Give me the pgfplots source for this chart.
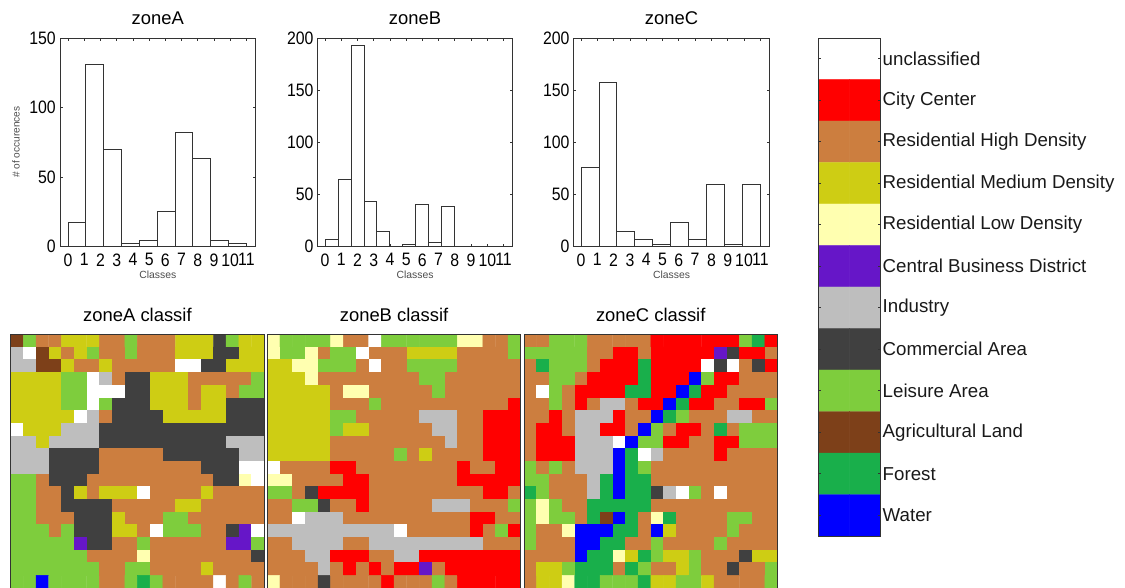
\documentclass[border=0pt]{standalone}
\usepackage{pgfplots}
\usepackage{fontspec}
\setmainfont{Liberation Sans}
\newfontfamily\tickfont[FakeStretch=0.88]{Liberation Sans}
\pgfplotsset{compat=1.18}
\definecolor{axc}{gray}{0.2}
\pgfplotsset{
 colormap={landuse}{rgb255=(255,255,255) rgb255=(255,0,0) rgb255=(204,126,63) rgb255=(206,205,20) rgb255=(255,255,176) rgb255=(102,22,200) rgb255=(190,190,190) rgb255=(64,64,64) rgb255=(126,205,61) rgb255=(125,64,25) rgb255=(25,175,75) rgb255=(0,0,255)},
 every axis/.append style={scale only axis, anchor=south west, /pgf/number format/assume math mode=true, axis line style={axc,line width=0.9pt}},
 hist/.style={width=#1, height=208pt, xtick={0,...,11}, major tick length=2.5pt, tick style={axc,line width=0.7pt},
   ymin=0, ticklabel style={font=\tickfont\fontsize{18}{20}\selectfont, inner sep=0pt}, xtick pos=both, ytick pos=both, tick align=inside,
   yticklabel style={xshift=-4pt}, xticklabel style={yshift=-7pt},
   xlabel={Classes}, xlabel style={font=\fontsize{10.4}{11}\selectfont, text=black!70, yshift=-1pt},
   title style={font=\fontsize{18.4}{20}\selectfont, yshift=4pt}},
 zmap/.style={width=253.5pt, height=253.7pt, xmin=-0.5, xmax=19.5, ymin=-0.5, ymax=19.5, y dir=reverse, ticks=none, axis on top,
   colormap name=landuse, colormap access=direct,
   title style={font=\fontsize{18.4}{20}\selectfont, yshift=3pt}},
 bars/.style={ybar interval, draw=axc, fill=white, line width=0.9pt},
 cells/.style={matrix plot*, mesh/cols=20, point meta=explicit},
 table/cellrows/.style={/pgfplots/table/row sep=\\, /pgfplots/table/header=false, /pgfplots/table/x expr={\coordindex-20*floor((\coordindex+0.5)/20)}, /pgfplots/table/y expr={floor((\coordindex+0.5)/20)}, /pgfplots/table/meta index=0}
}
\begin{document}
\begin{tikzpicture}
\path[use as bounding box] (0pt,0pt) rectangle (1125pt,588pt);

\begin{axis}[hist=195.5pt, at={(60pt,341.7pt)}, xmin=-0.5, xmax=11.56, ymax=150, ytick={0,50,100,150}, title={zoneA},
  ylabel={\# of occurences}, ylabel style={font=\fontsize{10.1}{11}\selectfont, text=black!70, yshift=6pt}]
\addplot[bars] coordinates {(0,17) (1.1,131) (2.2,70) (3.3,2) (4.4,4) (5.5,25) (6.6,82) (7.7,63) (8.8,4) (9.9,2) (11,2)};
\end{axis}

\begin{axis}[hist=194.6pt, at={(317.7pt,341.7pt)}, xmin=-0.45, xmax=11.54, ymax=200, ytick={0,50,100,150,200}, title={zoneB}]
\addplot[bars] coordinates {(0,7) (0.8,64) (1.6,193) (2.4,43) (3.2,14) (4,0) (4.8,2) (5.6,40) (6.4,4) (7.2,38) (8,38)};
\end{axis}

\begin{axis}[hist=195.6pt, at={(573.7pt,341.7pt)}, xmin=-0.45, xmax=11.55, ymax=200, ytick={0,50,100,150,200}, title={zoneC}]
\addplot[bars] coordinates {(0,76) (1.1,158) (2.2,14) (3.3,7) (4.4,2) (5.5,23) (6.6,7) (7.7,59) (8.8,2) (9.9,59) (11,59)};
\end{axis}

\begin{axis}[zmap, at={(10.7pt,0pt)}, title={zoneA classif}]
\addplot[cells] table[cellrows] {
9\\8\\2\\2\\3\\3\\3\\2\\2\\8\\2\\2\\2\\3\\3\\3\\7\\8\\3\\3\\
6\\0\\9\\3\\2\\3\\8\\2\\2\\8\\2\\2\\2\\3\\3\\3\\7\\7\\3\\3\\
6\\6\\9\\9\\3\\2\\2\\3\\2\\2\\2\\2\\2\\0\\0\\7\\7\\3\\3\\3\\
3\\3\\3\\3\\8\\8\\0\\6\\2\\7\\7\\3\\3\\3\\2\\2\\2\\2\\2\\8\\
3\\3\\3\\3\\8\\8\\0\\0\\0\\7\\7\\3\\3\\3\\2\\3\\3\\2\\8\\8\\
3\\3\\3\\3\\8\\8\\0\\8\\7\\7\\7\\3\\3\\3\\2\\3\\3\\7\\7\\7\\
3\\3\\3\\3\\3\\0\\6\\2\\7\\7\\7\\7\\3\\3\\3\\3\\3\\7\\7\\7\\
0\\3\\3\\3\\6\\6\\6\\7\\7\\7\\7\\7\\7\\7\\7\\7\\7\\7\\7\\7\\
6\\6\\3\\6\\6\\6\\6\\7\\7\\7\\7\\7\\7\\7\\7\\7\\7\\6\\6\\6\\
6\\6\\6\\7\\7\\7\\7\\2\\2\\2\\2\\2\\7\\7\\7\\7\\7\\7\\6\\6\\
6\\6\\6\\7\\7\\7\\7\\2\\2\\2\\2\\2\\2\\2\\2\\7\\7\\7\\0\\0\\
8\\8\\2\\7\\7\\7\\2\\2\\2\\2\\2\\2\\2\\2\\2\\2\\7\\7\\4\\0\\
8\\8\\2\\2\\7\\3\\2\\3\\3\\3\\0\\2\\2\\2\\2\\3\\2\\2\\2\\2\\
8\\8\\2\\2\\7\\7\\7\\7\\2\\2\\2\\2\\2\\3\\3\\2\\2\\2\\2\\2\\
8\\8\\2\\2\\2\\7\\7\\7\\3\\2\\2\\2\\8\\8\\2\\2\\2\\2\\2\\2\\
8\\8\\8\\2\\8\\7\\7\\7\\3\\3\\2\\0\\8\\8\\8\\2\\2\\7\\5\\0\\
8\\8\\8\\8\\8\\5\\7\\7\\2\\2\\8\\2\\2\\2\\2\\2\\2\\5\\5\\8\\
8\\8\\8\\8\\8\\8\\2\\2\\2\\2\\4\\2\\2\\2\\2\\2\\2\\2\\2\\7\\
8\\8\\8\\8\\8\\8\\8\\2\\2\\8\\8\\2\\2\\2\\2\\3\\2\\2\\2\\2\\
8\\8\\11\\8\\8\\8\\8\\2\\2\\8\\10\\8\\2\\2\\2\\2\\0\\2\\8\\2\\
};
\end{axis}

\begin{axis}[zmap, at={(267.3pt,0pt)}, title={zoneB classif}]
\addplot[cells] table[cellrows] {
4\\8\\8\\8\\8\\4\\2\\2\\0\\8\\8\\8\\8\\8\\8\\4\\4\\2\\2\\8\\
4\\8\\8\\4\\2\\8\\8\\0\\2\\2\\2\\3\\3\\3\\3\\2\\2\\2\\2\\8\\
3\\3\\4\\4\\8\\8\\8\\2\\0\\2\\2\\8\\8\\8\\8\\2\\2\\2\\2\\2\\
3\\3\\3\\4\\2\\2\\2\\2\\2\\2\\2\\2\\8\\8\\2\\2\\2\\2\\2\\2\\
3\\3\\3\\3\\3\\2\\4\\4\\2\\2\\2\\2\\2\\8\\2\\2\\2\\2\\2\\2\\
3\\3\\3\\3\\3\\2\\2\\2\\8\\2\\2\\2\\2\\2\\2\\2\\2\\2\\2\\1\\
3\\3\\3\\3\\3\\8\\8\\2\\2\\2\\2\\2\\6\\6\\6\\2\\2\\1\\1\\1\\
3\\3\\3\\3\\3\\8\\3\\3\\2\\2\\2\\2\\2\\6\\6\\2\\2\\1\\1\\1\\
3\\3\\3\\3\\3\\2\\2\\2\\2\\2\\2\\2\\2\\2\\6\\2\\2\\1\\1\\1\\
3\\3\\3\\3\\3\\2\\2\\2\\2\\2\\8\\2\\3\\2\\2\\2\\2\\1\\1\\1\\
0\\2\\2\\2\\2\\1\\1\\2\\2\\2\\2\\2\\2\\2\\2\\1\\2\\2\\1\\1\\
4\\4\\2\\2\\2\\2\\1\\1\\2\\2\\2\\2\\2\\2\\2\\1\\1\\1\\1\\1\\
8\\8\\2\\7\\1\\1\\1\\1\\2\\2\\2\\2\\2\\2\\2\\2\\2\\1\\1\\2\\
2\\2\\8\\8\\7\\2\\2\\1\\2\\2\\2\\2\\2\\6\\6\\6\\2\\2\\2\\8\\
2\\2\\0\\6\\6\\6\\2\\2\\2\\2\\2\\2\\2\\2\\2\\2\\1\\1\\2\\2\\
6\\6\\6\\6\\6\\6\\6\\6\\6\\6\\0\\2\\2\\2\\2\\2\\1\\2\\8\\1\\
2\\2\\6\\6\\6\\6\\2\\2\\6\\6\\6\\6\\6\\6\\6\\6\\6\\2\\2\\2\\
2\\2\\2\\6\\6\\1\\1\\1\\2\\2\\6\\6\\1\\1\\1\\1\\1\\1\\1\\1\\
2\\2\\2\\2\\6\\2\\1\\2\\1\\2\\1\\1\\5\\2\\1\\1\\1\\1\\1\\1\\
4\\2\\2\\2\\7\\2\\2\\2\\2\\1\\2\\2\\2\\8\\2\\1\\1\\1\\1\\1\\
};
\end{axis}

\begin{axis}[zmap, at={(524pt,0pt)}, title={zoneC classif}]
\addplot[cells] table[cellrows] {
2\\2\\8\\8\\8\\2\\2\\2\\2\\2\\1\\1\\1\\1\\1\\1\\1\\8\\10\\1\\
8\\8\\8\\8\\8\\2\\2\\1\\1\\2\\1\\1\\1\\1\\1\\5\\7\\1\\1\\2\\
2\\10\\8\\8\\8\\2\\1\\1\\1\\10\\1\\1\\1\\1\\0\\7\\0\\2\\7\\1\\
2\\2\\8\\8\\2\\1\\1\\1\\1\\10\\1\\1\\1\\11\\8\\1\\1\\2\\2\\2\\
2\\0\\8\\2\\1\\1\\1\\1\\10\\10\\1\\1\\11\\10\\1\\1\\2\\2\\2\\2\\
2\\2\\8\\2\\1\\2\\6\\6\\2\\1\\1\\11\\10\\1\\1\\2\\2\\1\\1\\8\\
2\\2\\1\\2\\6\\6\\6\\1\\2\\2\\11\\10\\8\\2\\2\\2\\6\\6\\2\\2\\
2\\1\\1\\2\\6\\6\\1\\1\\2\\11\\8\\2\\1\\1\\2\\10\\2\\8\\8\\8\\
2\\1\\1\\1\\6\\6\\6\\0\\11\\8\\8\\1\\1\\2\\2\\1\\1\\8\\8\\8\\
2\\1\\1\\1\\6\\6\\6\\11\\10\\0\\6\\2\\2\\2\\2\\1\\2\\2\\2\\2\\
8\\2\\8\\2\\6\\6\\6\\11\\10\\8\\2\\2\\2\\2\\2\\2\\2\\2\\2\\2\\
8\\8\\2\\2\\2\\6\\10\\11\\10\\10\\2\\2\\2\\2\\2\\2\\2\\2\\2\\2\\
10\\8\\2\\2\\2\\6\\10\\11\\10\\10\\7\\6\\0\\8\\2\\0\\2\\2\\2\\2\\
8\\4\\8\\2\\2\\10\\10\\10\\10\\10\\2\\2\\2\\2\\2\\2\\2\\2\\2\\2\\
8\\4\\8\\8\\2\\10\\9\\11\\10\\2\\4\\10\\2\\2\\2\\2\\8\\8\\2\\2\\
8\\2\\2\\4\\11\\11\\11\\10\\10\\2\\11\\3\\2\\2\\2\\2\\8\\2\\2\\2\\
8\\2\\2\\2\\11\\11\\10\\10\\2\\2\\8\\2\\2\\2\\2\\8\\2\\2\\2\\2\\
2\\2\\2\\2\\11\\10\\10\\4\\3\\10\\8\\3\\3\\8\\2\\2\\2\\7\\3\\3\\
2\\3\\3\\8\\10\\10\\10\\2\\10\\8\\2\\2\\3\\8\\2\\2\\7\\2\\2\\8\\
2\\3\\3\\4\\10\\10\\8\\8\\8\\10\\3\\3\\8\\8\\3\\2\\2\\2\\2\\8\\
};
\end{axis}

\begin{axis}[at={(818.3pt,52pt)}, width=62.2pt, height=498pt, xmin=-0.5, xmax=1.5, ymin=-0.5, ymax=11.5, y dir=reverse, axis on top,
  colormap name=landuse, colormap access=direct, xtick=\empty, ytick={0,...,11}, ytick pos=both, yticklabel pos=right, tick align=inside,
  major tick length=3pt, tick style={axc,line width=0.6pt},
  yticklabels={unclassified,City Center,Residential High Density,Residential Medium Density,Residential Low Density,Central Business District,Industry,Commercial Area,Leisure Area,Agricultural Land,Forest,Water},
  yticklabel style={font=\fontsize{18.7}{20}\selectfont, inner sep=0pt, xshift=2pt, text=black!90}]
\addplot[matrix plot*, mesh/cols=2, point meta=explicit] coordinates {
(0,0)[0] (1,0)[0] (0,1)[1] (1,1)[1] (0,2)[2] (1,2)[2] (0,3)[3] (1,3)[3] (0,4)[4] (1,4)[4] (0,5)[5] (1,5)[5]
(0,6)[6] (1,6)[6] (0,7)[7] (1,7)[7] (0,8)[8] (1,8)[8] (0,9)[9] (1,9)[9] (0,10)[10] (1,10)[10] (0,11)[11] (1,11)[11]};
\end{axis}
\end{tikzpicture}
\end{document}
